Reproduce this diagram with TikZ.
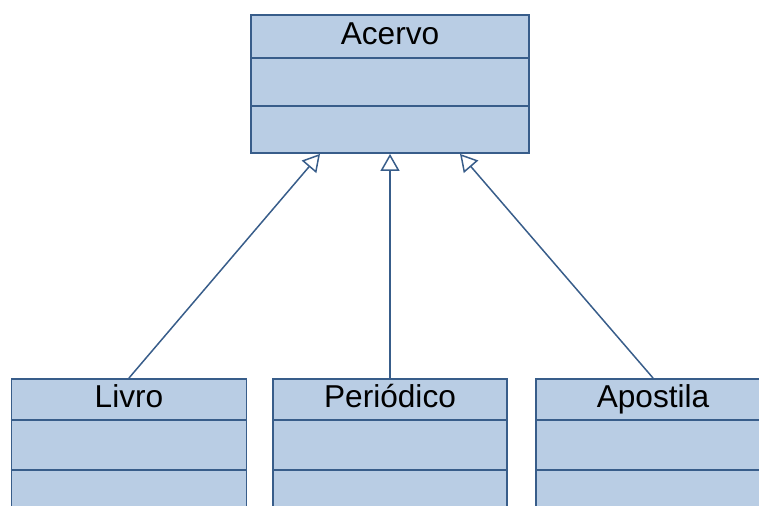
\documentclass[tikz,border=0pt]{standalone}
\usepackage{fontspec}
\setmainfont{Liberation Sans}
\usetikzlibrary{arrows.meta,positioning,calc}
\definecolor{classfill}{RGB}{185,205,228}
\definecolor{classedge}{RGB}{56,93,138}

\begin{document}
\begin{tikzpicture}[x=0.02cm,y=-0.02cm,
	classbox/.style={draw=classedge,fill=classfill,line width=1.1pt,rectangle,anchor=north,inner sep=0pt},
	classname/.style={anchor=base,inner sep=0pt,font=\fontsize{18}{21}\selectfont},
	divider/.style={draw=classedge,line width=1.1pt},
	inherit/.style={draw=classedge,line width=0.85pt,-{Triangle[open,width=0.38cm,length=0.34cm]}}]
	\useasboundingbox (0,0) rectangle (759,506);
	% superclass
	\node[classbox,minimum width=5.56cm,minimum height=2.76cm] (acervo) at (390,14) {};
	\node[classname] (acervoname) at ($(acervo.north)+(0,31)$) {Acervo};
	\draw[divider] ($(acervo.north west)+(0,44)$) -- ($(acervo.north east)+(0,44)$);
	\draw[divider] ($(acervo.north west)+(0,92)$) -- ($(acervo.north east)+(0,92)$);
	% subclasses
	\node[classbox,minimum width=4.70cm,minimum height=2.80cm] (livro) at (129,378) {};
	\node[classbox,minimum width=4.68cm,minimum height=2.80cm] (periodico) at (390,378) {};
	\node[classbox,minimum width=4.68cm,minimum height=2.80cm] (apostila) at (653,378) {};
	\node[classname] (livroname) at ($(livro.north)+(0,29)$) {Livro};
	\node[classname] (periodiconame) at ($(periodico.north)+(0,29)$) {Periódico};
	\node[classname] (apostilaname) at ($(apostila.north)+(0,29)$) {Apostila};
	\foreach \c in {livro,periodico,apostila}{
		\draw[divider] ($(\c.north west)+(0,42)$) -- ($(\c.north east)+(0,42)$);
		\draw[divider] ($(\c.north west)+(0,92)$) -- ($(\c.north east)+(0,92)$);
	}
	% generalisation
	\coordinate (tipl) at ($(acervo.south)+(-70,0)$);
	\coordinate (tipr) at ($(acervo.south)+(70,0)$);
	\draw[inherit] (livro.north) -- (tipl);
	\draw[inherit] (periodico.north) -- (acervo.south);
	\draw[inherit] (apostila.north) -- (tipr);
\end{tikzpicture}
\end{document}
